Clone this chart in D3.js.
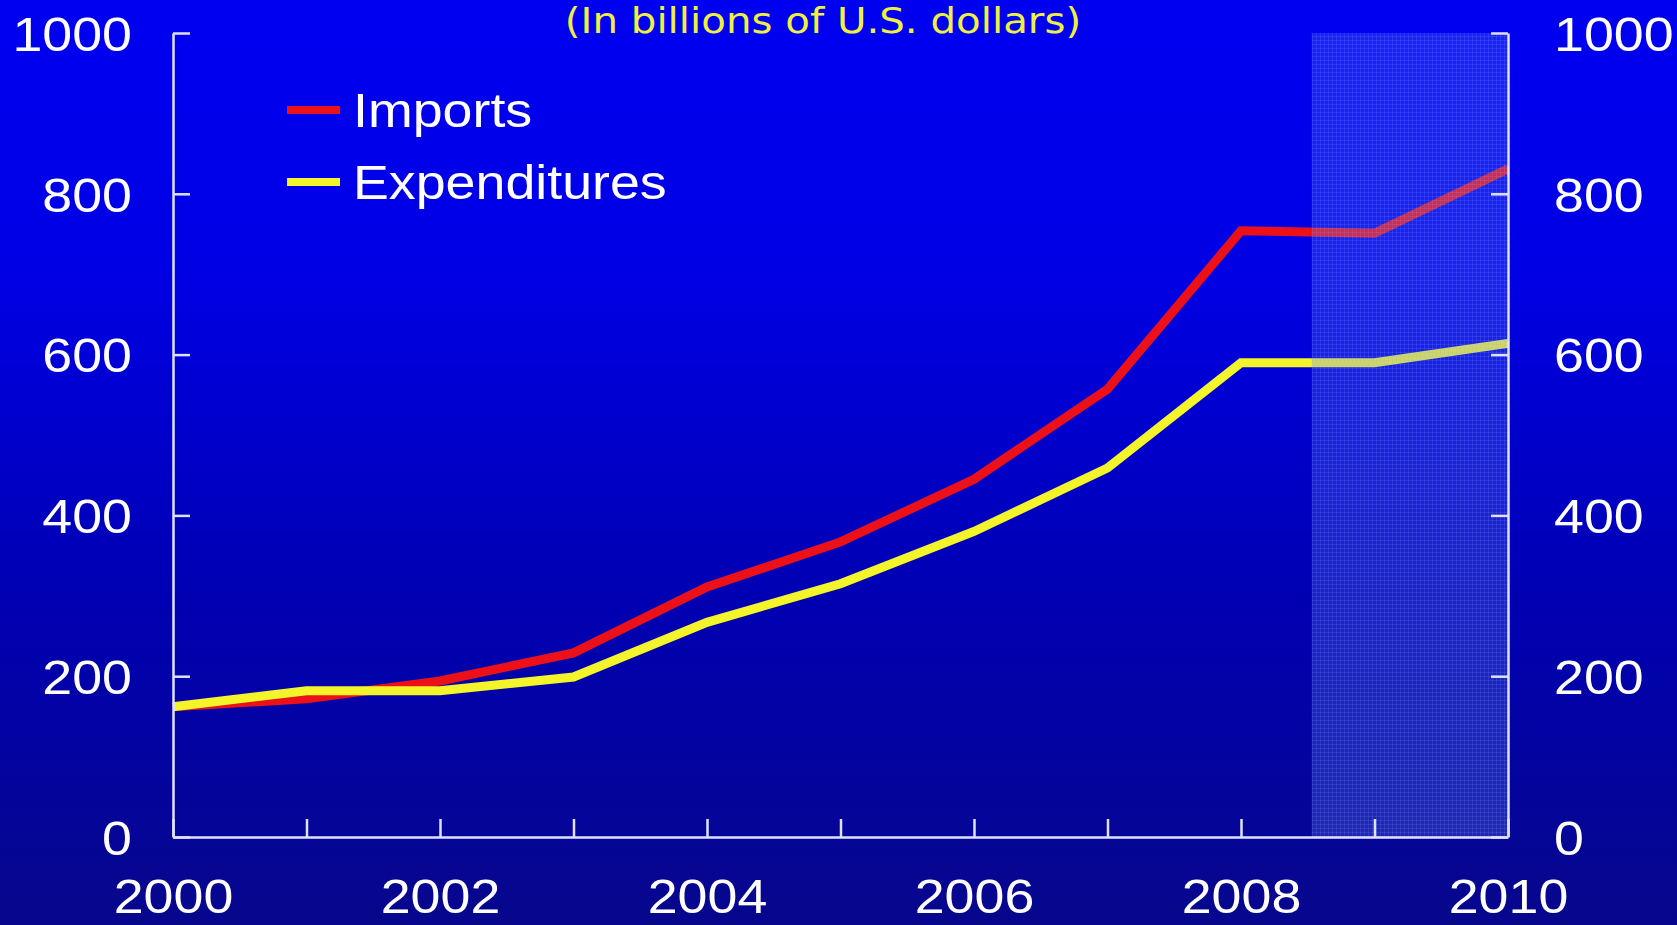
<!DOCTYPE html>
<html>
<head>
<meta charset="utf-8">
<script src="https://cdn.jsdelivr.net/npm/d3@7"></script>
<style>
  html, body { margin: 0; padding: 0; background: #07078c; overflow: hidden; }
  svg { display: block; }
</style>
</head>
<body>
<svg id="chart" width="1677" height="925"></svg>
<script>
// Annual values, billions of U.S. dollars
const years = [2000, 2001, 2002, 2003, 2004, 2005, 2006, 2007, 2008, 2009, 2010];
const imports = [162, 172, 194, 229, 311, 367, 445, 557, 754, 751, 831];
const expenditures = [162, 182, 182, 199, 267, 315, 380, 459, 590, 590, 614];
const yTicks = [0, 200, 400, 600, 800, 1000];
const xLabelYears = [2000, 2002, 2004, 2006, 2008, 2010];
const projectionStart = 2008.53;
const titleText = "(In billions of U.S. dollars)";
const seriesNames = ["Imports", "Expenditures"];
const seriesColors = ["#ec1018", "#f4f42a"];

const W = 1677, H = 925;
const svg = d3.select("#chart");
const stretch = 1.12;

const defs = svg.append("defs");
const bg = defs.append("linearGradient").attr("id", "bg")
  .attr("x1", 0).attr("y1", 0).attr("x2", 0).attr("y2", 1);
[[0, "#0000f2"], [0.3, "#0000e4"], [0.62, "#0000b6"], [1, "#07078c"]]
  .forEach(([o, c]) => bg.append("stop").attr("offset", o).attr("stop-color", c));

// Fine cross-hatched texture for the projection band
const pat = defs.append("pattern").attr("id", "dots")
  .attr("width", 4).attr("height", 4).attr("patternUnits", "userSpaceOnUse");
pat.append("rect").attr("width", 4).attr("height", 4).attr("fill", "rgba(100,130,255,0.26)");
pat.append("rect").attr("x", 0).attr("y", 0).attr("width", 4).attr("height", 1)
  .attr("fill", "rgba(150,175,255,0.14)");
pat.append("rect").attr("x", 0).attr("y", 0).attr("width", 1).attr("height", 4)
  .attr("fill", "rgba(150,175,255,0.14)");

svg.append("rect").attr("width", W).attr("height", H).attr("fill", "url(#bg)");

const x = d3.scaleLinear().domain([2000, 2010]).range([173, 1508]);
const y = d3.scaleLinear().domain([0, 1000]).range([837, 33]);

const font = "'Liberation Sans', Arial, sans-serif";
const axisColor = "#dfe2ff";
const labelSize = 48;

// Title along the top edge
svg.append("text")
  .attr("transform", `translate(823,33) scale(${stretch},1)`)
  .attr("text-anchor", "middle")
  .attr("font-family", "'DejaVu Sans', Verdana, sans-serif")
  .attr("font-size", 36)
  .attr("fill", "#f0f040")
  .text(titleText);

// Series lines
const line = d3.line().x((d, i) => x(years[i])).y(d => y(d));
[imports, expenditures].forEach((vals, k) => {
  svg.append("path")
    .datum(vals)
    .attr("d", line)
    .attr("fill", "none")
    .attr("stroke", seriesColors[k])
    .attr("stroke-width", 9)
    .attr("stroke-linejoin", "miter");
});

// Shaded projection band
svg.append("rect")
  .attr("x", x(projectionStart))
  .attr("y", y(1000))
  .attr("width", x(2010) - x(projectionStart))
  .attr("height", y(0) - y(1000))
  .attr("fill", "url(#dots)");

function styleAxis(g) {
  g.selectAll(".domain").attr("stroke", axisColor).attr("stroke-width", 2.5);
  g.selectAll(".tick line").attr("stroke", axisColor).attr("stroke-width", 2.5);
  g.selectAll("text")
    .attr("fill", "#ffffff")
    .attr("font-family", font)
    .attr("font-size", labelSize);
}

const fmt = d3.format("d");

// Left axis
const gl = svg.append("g").attr("transform", `translate(${x(2000)},0)`)
  .call(d3.axisLeft(y).tickValues(yTicks).tickFormat(fmt)
    .tickSizeInner(-17).tickSizeOuter(0).tickPadding(0));
styleAxis(gl);
gl.selectAll(".tick text")
  .attr("x", null).attr("dy", "0.36em")
  .attr("transform", `translate(-41,0) scale(${stretch},1)`);

// Right axis
const gr = svg.append("g").attr("transform", `translate(${x(2010)},0)`)
  .call(d3.axisRight(y).tickValues(yTicks).tickFormat(fmt)
    .tickSizeInner(-17).tickSizeOuter(0).tickPadding(0));
styleAxis(gr);
gr.selectAll(".tick text")
  .attr("x", null).attr("dy", "0.36em")
  .attr("transform", `translate(46,0) scale(${stretch},1)`);

// Bottom axis
const gb = svg.append("g").attr("transform", `translate(0,${y(0)})`)
  .call(d3.axisBottom(x).tickValues(years).tickSizeInner(-18).tickSizeOuter(0)
    .tickFormat(d => xLabelYears.includes(d) ? String(d) : ""));
styleAxis(gb);
gb.selectAll(".tick text")
  .attr("y", null).attr("dy", null)
  .attr("transform", `translate(0,76) scale(${stretch},1)`);

// Legend
const legend = svg.append("g");
seriesNames.forEach((name, k) => {
  const ly = [110, 182][k];
  legend.append("line")
    .attr("x1", 287).attr("x2", 340).attr("y1", ly).attr("y2", ly)
    .attr("stroke", seriesColors[k]).attr("stroke-width", 8);
  legend.append("text")
    .attr("transform", `translate(353,${ly}) scale(${stretch},1)`)
    .attr("dy", "0.36em")
    .attr("font-family", font).attr("font-size", labelSize)
    .attr("fill", "#ffffff")
    .text(name);
});
</script>
</body>
</html>
